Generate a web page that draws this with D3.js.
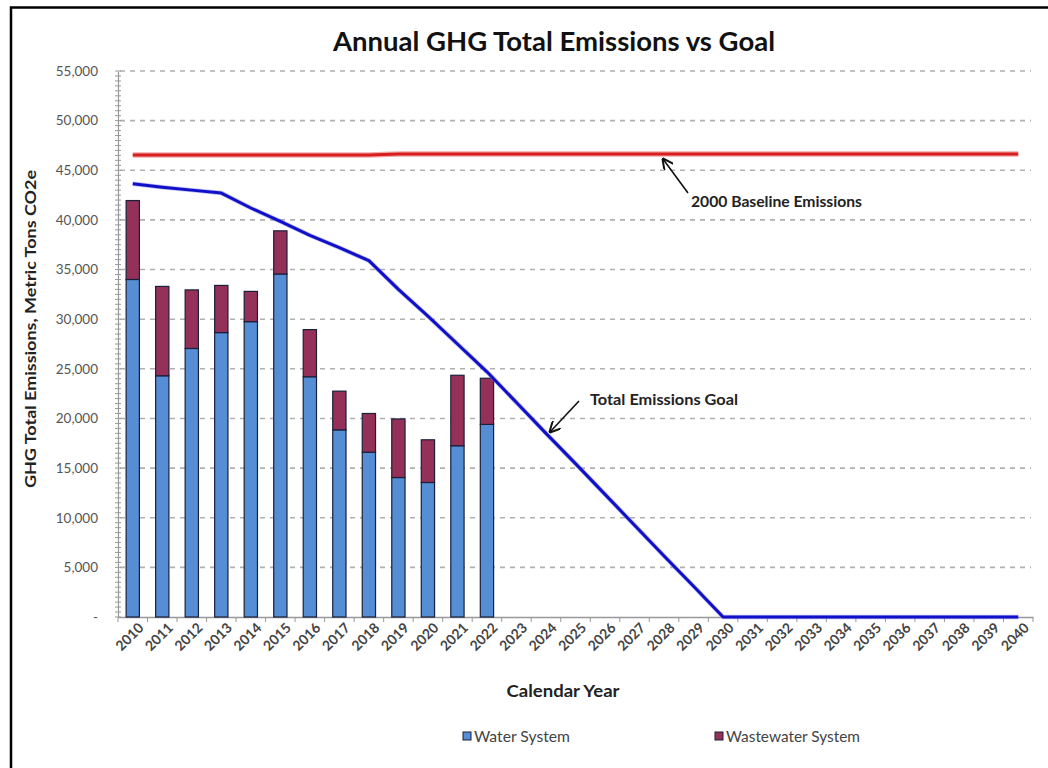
<!DOCTYPE html>
<html>
<head>
<meta charset="utf-8">
<script src="https://cdn.jsdelivr.net/npm/d3@7"></script>
<style>
  html, body { margin: 0; padding: 0; background: #fff; }
  svg { display: block; }
  text { font-family: Lato, "Open Sans", sans-serif; }
</style>
</head>
<body>
<svg id="chart" width="1048" height="768"></svg>
<script>
const years = d3.range(2010, 2041).map(String);
const barYears = ["2010","2011","2012","2013","2014","2015","2016","2017","2018","2019","2020","2021","2022"];
const waterSystem = [34000, 24300, 27050, 28650, 29750, 34550, 24200, 18850, 16600, 14050, 13550, 17250, 19400];
const wastewaterSystem = [7950, 9000, 5900, 4750, 3050, 4350, 4750, 3900, 3900, 5900, 4300, 7100, 4650];
const goalValues = [43650, 43300, 43000, 42700, 41200, 39850, 38450, 37200, 35900, 33000, 30300, 27500, 24700,
  21600, 18500, 15450, 12350, 9250, 6150, 3100, 0, 0, 0, 0, 0, 0, 0, 0, 0, 0, 0];
const baselineValues = [46550, 46550, 46550, 46550, 46550, 46550, 46550, 46550, 46550, 46650, 46650, 46650, 46650,
  46650, 46650, 46650, 46650, 46650, 46650, 46650, 46650, 46650, 46650, 46650, 46650, 46650, 46650, 46650, 46650, 46650, 46650];
const yTicks = [0, 5000, 10000, 15000, 20000, 25000, 30000, 35000, 40000, 45000, 50000, 55000];
const seriesNames = ["Water System", "Wastewater System"];
const colors = ["#558ED5", "#953058"];

const svg = d3.select("#chart");

// frame
svg.append("path").attr("d", "M11,768 L11,7.5 L1048,7.5").attr("fill", "none")
  .attr("stroke", "#000").attr("stroke-width", 2.5);

const x = d3.scaleBand().domain(years).range([118, 1033]).paddingInner(0.55).paddingOuter(0.275);
const y = d3.scaleLinear().domain([0, 55000]).range([617, 71]);
const x0 = 118;

// grid
svg.append("g").selectAll("line").data(yTicks.filter(d => d > 0)).join("line")
  .attr("x1", x0 + 2).attr("x2", 1031)
  .attr("y1", d => y(d)).attr("y2", d => y(d))
  .attr("stroke", "#b0b0b0").attr("stroke-width", 1.6).attr("stroke-dasharray", "5,5");

// title
svg.append("text").attr("x", 554).attr("y", 51).attr("text-anchor", "middle")
  .attr("font-size", 26).attr("font-weight", "bold").attr("fill", "#111")
  .attr("textLength", 442).attr("lengthAdjust", "spacingAndGlyphs")
  .text("Annual GHG Total Emissions vs Goal");

// y axis
const yAxis = d3.axisLeft(y).tickValues(yTicks).tickSize(0).tickPadding(20)
  .tickFormat(d => d === 0 ? "-" : d3.format(",")(d));
const ya = svg.append("g").attr("transform", `translate(${x0},0)`).call(yAxis);
ya.select(".domain").attr("stroke", "#999").attr("stroke-width", 1.2);
ya.selectAll("text").attr("font-size", 13.5).attr("fill", "#555").attr("font-family", "Lato, sans-serif");
// minor ticks
svg.append("g").selectAll("line").data(d3.range(0, 55001, 500)).join("line")
  .attr("x1", x0 - 3).attr("x2", x0 + 3)
  .attr("y1", d => y(d)).attr("y2", d => y(d))
  .attr("stroke", "#999").attr("stroke-width", 1);

// y axis title
svg.append("text").attr("transform", "translate(36,329) rotate(-90)")
  .attr("text-anchor", "middle").attr("font-size", 16).attr("font-weight", "bold").attr("fill", "#222")
  .attr("textLength", 318).attr("lengthAdjust", "spacingAndGlyphs")
  .text("GHG Total Emissions, Metric Tons CO2e");

// x axis
const xAxis = d3.axisBottom(x).tickSize(0).tickPadding(8);
const xa = svg.append("g").attr("transform", "translate(0,617)").call(xAxis);
xa.select(".domain").attr("stroke", "#999").attr("stroke-width", 1.5);
xa.selectAll("text").attr("font-size", 14).attr("font-weight", "bold").attr("fill", "#444").attr("font-family", "Lato, sans-serif")
  .attr("text-anchor", "end").attr("dy", 0)
  .attr("transform", "translate(6,6) rotate(-45)");
// category boundary ticks
svg.append("g").selectAll("line").data(years.concat(["end"])).join("line")
  .attr("x1", (d, i) => x0 + i * x.step()).attr("x2", (d, i) => x0 + i * x.step())
  .attr("y1", 617).attr("y2", 622).attr("stroke", "#999").attr("stroke-width", 1);

svg.append("text").attr("x", 563).attr("y", 697).attr("text-anchor", "middle")
  .attr("font-size", 17.5).attr("font-weight", "bold").attr("fill", "#222")
  .attr("textLength", 113).attr("lengthAdjust", "spacingAndGlyphs").text("Calendar Year");

// stacked bars
const rows = barYears.map((yr, i) => ({ year: yr, water: waterSystem[i], waste: wastewaterSystem[i] }));
const stack = d3.stack().keys(["water", "waste"])(rows);
svg.append("g").selectAll("g").data(stack).join("g")
  .attr("fill", (d, i) => colors[i])
  .selectAll("rect").data(d => d).join("rect")
  .attr("x", d => x(d.data.year)).attr("width", x.bandwidth())
  .attr("y", d => y(d[1])).attr("height", d => y(d[0]) - y(d[1]))
  .attr("stroke", "#1a1f3a").attr("stroke-width", 1.2);

// baseline line
const line = d3.line().x(d => x(d.year) + x.bandwidth() / 2).y(d => y(d.v));
const baseData = years.map((yr, i) => ({ year: yr, v: baselineValues[i] }));
svg.append("path").datum(baseData).attr("d", line).attr("fill", "none")
  .attr("stroke", "#f2a8a8").attr("stroke-width", 5.5);
svg.append("path").datum(baseData).attr("d", line).attr("fill", "none")
  .attr("stroke", "#d81e1e").attr("stroke-width", 3);

// goal line
const goalData = years.map((yr, i) => ({ year: yr, v: goalValues[i] }));
svg.append("path").datum(goalData).attr("d", line).attr("fill", "none")
  .attr("stroke", "#8080f0").attr("stroke-width", 4.5).attr("stroke-opacity", 0.5).attr("stroke-linejoin", "round");
svg.append("path").datum(goalData).attr("d", line).attr("fill", "none")
  .attr("stroke", "#1010c8").attr("stroke-width", 3).attr("stroke-linejoin", "round");

// annotations
const defs = svg.append("defs");
defs.append("marker").attr("id", "arr").attr("viewBox", "0 0 10 10").attr("refX", 9).attr("refY", 5)
  .attr("markerWidth", 7).attr("markerHeight", 7).attr("orient", "auto")
  .append("path").attr("d", "M0,0 L10,5 L0,10").attr("fill", "none").attr("stroke", "#111").attr("stroke-width", 1.8);

svg.append("line").attr("x1", 688).attr("y1", 193).attr("x2", 663).attr("y2", 159)
  .attr("stroke", "#111").attr("stroke-width", 1.6).attr("marker-end", "url(#arr)");
svg.append("text").attr("x", 691).attr("y", 207).attr("font-size", 16).attr("font-weight", "bold")
  .attr("fill", "#222").attr("textLength", 171).attr("lengthAdjust", "spacingAndGlyphs")
  .text("2000 Baseline Emissions");

svg.append("line").attr("x1", 579).attr("y1", 401).attr("x2", 550).attr("y2", 432)
  .attr("stroke", "#111").attr("stroke-width", 1.6).attr("marker-end", "url(#arr)");
svg.append("text").attr("x", 590).attr("y", 405).attr("font-size", 16).attr("font-weight", "bold")
  .attr("fill", "#222").attr("textLength", 148).attr("lengthAdjust", "spacingAndGlyphs")
  .text("Total Emissions Goal");

// legend
const legendX = [463, 715];
const legendW = [96, 134];
const lg = svg.append("g").selectAll("g").data(seriesNames).join("g")
  .attr("transform", (d, i) => `translate(${legendX[i]},736)`);
lg.append("rect").attr("x", 0).attr("y", -4).attr("width", 8).attr("height", 8)
  .attr("fill", (d, i) => colors[i]).attr("stroke", "#1a1f3a").attr("stroke-width", 1);
lg.append("text").attr("x", 11).attr("y", 5.5).attr("font-size", 15).attr("fill", "#444")
  .attr("textLength", (d, i) => legendW[i]).attr("lengthAdjust", "spacingAndGlyphs").text(d => d);
</script>
</body>
</html>
